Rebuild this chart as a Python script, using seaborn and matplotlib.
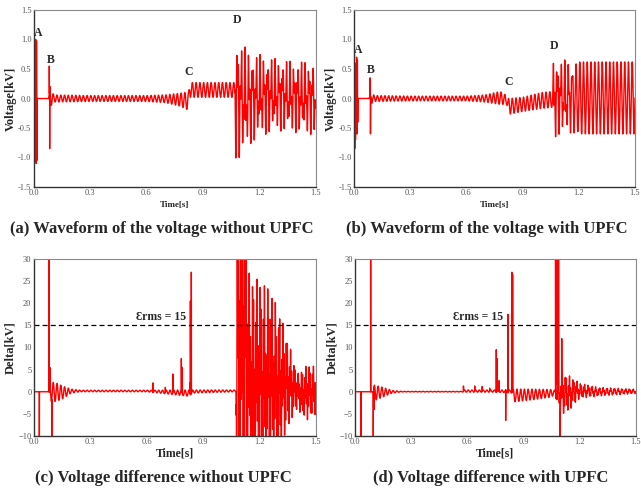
import numpy as np
import pandas as pd
import matplotlib
matplotlib.use("Agg")
import matplotlib.pyplot as plt
import seaborn as sns
from matplotlib.ticker import MultipleLocator, FormatStrFormatter

# ---------------------------------------------------------------- data
TIME_TICKS = [0.0, 0.3, 0.6, 0.9, 1.2, 1.5]
VOLT_TICKS = [-1.5, -1.0, -0.5, 0.0, 0.5, 1.0, 1.5]
DELTA_TICKS = [-10, -5, 0, 5, 10, 15, 20, 25, 30]
RMS_LIMIT = 15
EVENT_NAMES = ["A", "B", "C", "D"]
CAPTIONS = [
    "(a) Waveform of the voltage without UPFC",
    "(b) Waveform of the voltage with UPFC",
    "(c) Voltage difference without UPFC",
    "(d) Voltage difference with UPFC",
]
GRID_FREQ = 50.0      # fundamental of the recorded waveform [Hz]

# (a) voltage without UPFC: peak envelope, disturbance share, impulse samples
a_env_t = [0.000, 0.021, 0.078, 0.088, 0.11, 0.30, 0.60, 0.70, 0.78, 0.825, 0.830,
           1.068, 1.072, 1.10, 1.15, 1.20, 1.30, 1.40, 1.50]
a_env_hi = [0, 0, 0, 0.14, 0.06, 0.05, 0.05, 0.06, 0.09, 0.11, 0.27,
            0.27, 1.20, 0.95, 0.80, 0.75, 0.67, 0.63, 0.63]
a_env_lo = [0, 0, 0, -0.14, -0.06, -0.05, -0.05, -0.07, -0.13, -0.20, 0.02,
            0.02, -1.07, -1.00, -0.80, -0.65, -0.55, -0.58, -0.62]
a_mix_t = [0.0, 1.068, 1.072, 1.5]
a_mix_w = [0.0, 0.0, 0.42, 0.42]
a_side_freq = 113.0
a_imp_t = [0.002, 0.004, 0.007, 0.009, 0.012, 0.014, 0.016, 0.018, 0.084, 0.086, 0.088]
a_imp_v = [0.95, -0.80, 0.90, -1.00, 1.00, -1.10, 0.98, -1.05, 0.55, -0.85, 0.20]

# (b) voltage with UPFC
b_env_t = [0.000, 0.021, 0.080, 0.090, 0.11, 0.30, 0.60, 0.70, 0.78, 0.815, 0.825,
           0.90, 1.00, 1.060, 1.065, 1.08, 1.15, 1.20, 1.50]
b_env_hi = [0, 0, 0, 0.09, 0.05, 0.04, 0.04, 0.06, 0.12, 0.05, 0.0,
            0.02, 0.10, 0.12, 0.75, 0.68, 0.64, 0.62, 0.62]
b_env_lo = [0, 0, 0, -0.09, -0.05, -0.04, -0.04, -0.06, -0.10, -0.10, -0.27,
            -0.22, -0.17, -0.15, -0.85, -0.62, -0.60, -0.60, -0.60]
b_mix_t = [0.0, 1.062, 1.066, 1.15, 1.20, 1.5]
b_mix_w = [0.0, 0.0, 0.45, 0.35, 0.0, 0.0]
b_side_freq = 113.0
b_imp_t = [0.002, 0.004, 0.006, 0.008, 0.014, 0.016, 0.018, 0.020, 0.086, 0.088]
b_imp_v = [0.75, -0.85, 0.60, -0.70, 0.70, -0.60, 0.65, -0.40, 0.35, -0.60]

# (c) voltage difference without UPFC
c_env_t = [0.000, 0.088, 0.092, 0.12, 0.16, 0.20, 0.25, 0.60, 0.82, 0.85, 1.075,
           1.078, 1.13, 1.14, 1.25, 1.30, 1.35, 1.40, 1.45, 1.50]
c_env_hi = [0, 0, 2.2, 2.0, 1.2, 0.6, 0.35, 0.35, 0.4, 0.4, 0.4,
            60, 60, 27, 24, 19, 12, 4, 6, 6]
c_env_lo = [0, 0, -2.2, -2.2, -1.5, -0.3, 0.0, 0.0, -1.0, -0.3, 0.0,
            -35, -35, -22, -20, -16, -8, -4, -6.5, -5]
c_mix_t = [0.0, 1.075, 1.078, 1.5]
c_mix_w = [0.0, 0.0, 0.55, 0.55]
c_side_freq = 173.0
c_imp_t = [0.031, 0.0824, 0.087, 0.097, 0.634, 0.70, 0.74, 0.785, 0.79, 0.83, 0.833, 0.838]
c_imp_v = [-15, 45, 5.5, -15, 2, 1, 4, 7.5, 5.5, 2, 20.5, 27]

# (d) voltage difference with UPFC
d_env_t = [0.000, 0.100, 0.105, 0.15, 0.20, 0.25, 0.57, 0.58, 0.75, 0.845, 0.85,
           0.95, 1.05, 1.065, 1.10, 1.15, 1.20, 1.30, 1.50]
d_env_hi = [0, 0, 1.5, 1.0, 0.3, 0.1, 0.1, 0.4, 0.4, 0.4, 0.6,
            0.6, 0.5, 0.3, 4.5, 3.5, 2.0, 1.0, 0.6]
d_env_lo = [0, 0, -2.0, -1.2, -0.3, -0.05, -0.05, -0.1, -0.1, -0.3, -2.3,
            -1.8, -1.2, -0.5, -5.5, -4.0, -1.5, -1.0, -0.4]
d_mix_t = [0.0, 1.065, 1.07, 1.25, 1.30, 1.5]
d_mix_w = [0.0, 0.0, 0.5, 0.4, 0.3, 0.3]
d_side_freq = 173.0
d_imp_t = [0.034, 0.085, 0.099, 0.104, 0.58, 0.64, 0.68, 0.72, 0.755, 0.76, 0.77,
           0.805, 0.817, 0.838, 0.842, 1.071, 1.081, 1.087, 1.095, 1.104]
d_imp_v = [-15, 45, -15, -4, 1.3, 1.3, 1.2, 0.8, 9.5, 7.5, 2.5,
           -6.5, 17.5, 27, 26.5, 45, 40, 30, -15, 12]

# event marker positions (time [s], voltage [kV])
a_event_xy = [(0.025, 1.11), (0.090, 0.66), (0.823, 0.45), (1.084, 1.33)]
b_event_xy = [(0.023, 0.82), (0.089, 0.48), (0.823, 0.28), (1.067, 0.89)]


def waveform(env_t, hi, lo, mix_t, mix_w, side_freq, imp_t, imp_v):
    """Sampled signal between the given peak envelopes, plus impulse samples."""
    t = np.arange(0.0, 1.5 + 1e-9, 1.0 / 6000.0)
    hi_t = np.interp(t, env_t, hi)
    lo_t = np.interp(t, env_t, lo)
    w = np.interp(t, mix_t, mix_w)
    osc = (1 - w) * np.sin(2 * np.pi * GRID_FREQ * t) + w * np.sin(2 * np.pi * side_freq * t + 0.7)
    v = (hi_t + lo_t) / 2 + (hi_t - lo_t) / 2 * osc
    t_all = np.concatenate([t, imp_t])
    v_all = np.concatenate([v, imp_v])
    order = np.argsort(t_all, kind="stable")
    return pd.DataFrame({"Time": t_all[order], "Value": v_all[order]})


panels = [
    waveform(a_env_t, a_env_hi, a_env_lo, a_mix_t, a_mix_w, a_side_freq, a_imp_t, a_imp_v),
    waveform(b_env_t, b_env_hi, b_env_lo, b_mix_t, b_mix_w, b_side_freq, b_imp_t, b_imp_v),
    waveform(c_env_t, c_env_hi, c_env_lo, c_mix_t, c_mix_w, c_side_freq, c_imp_t, c_imp_v),
    waveform(d_env_t, d_env_hi, d_env_lo, d_mix_t, d_mix_w, d_side_freq, d_imp_t, d_imp_v),
]

# ---------------------------------------------------------------- style
sns.set_theme(style="white")
plt.rcParams["font.family"] = ["Liberation Serif", "DejaVu Serif"]
plt.rcParams["axes.facecolor"] = "white"

fig = plt.figure(figsize=(6.41, 4.92), dpi=100)
W, H = 641.0, 492.0
boxes = [(33.5, 10, 315.5, 187), (354, 10, 635, 187),
         (33.5, 259, 316, 436), (354.7, 259, 636, 436)]
axes = [fig.add_axes([l / W, 1 - b / H, (r - l) / W, (b - t) / H]) for l, t, r, b in boxes]

for i, (ax, df) in enumerate(zip(axes, panels)):
    sns.lineplot(data=df, x="Time", y="Value", ax=ax, color="#ff0000",
                 linewidth=1.0, estimator=None, sort=False)
    ax.set_xlim(0, 1.5)
    ax.set_xticks(TIME_TICKS)
    ax.xaxis.set_minor_locator(MultipleLocator(0.15))
    ax.xaxis.set_major_formatter(FormatStrFormatter("%.1f"))
    voltage = i < 2
    if voltage:
        ax.set_ylim(-1.5, 1.5)
        ax.set_yticks(VOLT_TICKS)
        ax.yaxis.set_major_formatter(FormatStrFormatter("%.1f"))
        ax.set_ylabel("Voltage[kV]", fontsize=9, fontweight="bold")
        ax.set_xlabel("Time[s]", fontsize=6.5, fontweight="bold", labelpad=3)
    else:
        ax.set_ylim(-10, 30)
        ax.set_yticks(DELTA_TICKS)
        ax.set_ylabel("Delta[kV]", fontsize=9, fontweight="bold")
        ax.set_xlabel("Time[s]", fontsize=8.5, fontweight="bold", labelpad=1)
        ax.axhline(RMS_LIMIT, color="black", linestyle=(0, (4, 2.5)), linewidth=0.9)
    ax.yaxis.set_label_coords(-0.06, 0.5)
    ax.tick_params(axis="both", which="major", direction="in", length=3, width=0.6,
                   color="#444444", labelsize=6, labelcolor="#555555", pad=1.5)
    ax.tick_params(axis="x", which="minor", direction="in", length=2, width=0.6, color="#444444")
    for side in ("left", "bottom"):
        ax.spines[side].set_color("#333333")
        ax.spines[side].set_linewidth(1.0)
    for side in ("top", "right"):
        ax.spines[side].set_color("#8a8a8a")
        ax.spines[side].set_linewidth(0.8)

for ax, pos in ((axes[0], a_event_xy), (axes[1], b_event_xy)):
    for name, (x, y) in zip(EVENT_NAMES, pos):
        ax.text(x, y, name, ha="center", va="center", fontsize=8.5, fontweight="bold")

axes[2].text(0.678, 16.9, "Ɛrms = 15", ha="center", va="center", fontsize=8.5, fontweight="bold")
axes[3].text(0.656, 16.9, "Ɛrms = 15", ha="center", va="center", fontsize=8.5, fontweight="bold")

cap_xy = [(162, 229), (487, 229), (163, 478), (491, 478)]
for text, (x, y) in zip(CAPTIONS, cap_xy):
    fig.text(x / W, 1 - y / H, text, ha="center", va="center", fontsize=12, fontweight="bold")

fig.savefig("out.png", dpi=100)
